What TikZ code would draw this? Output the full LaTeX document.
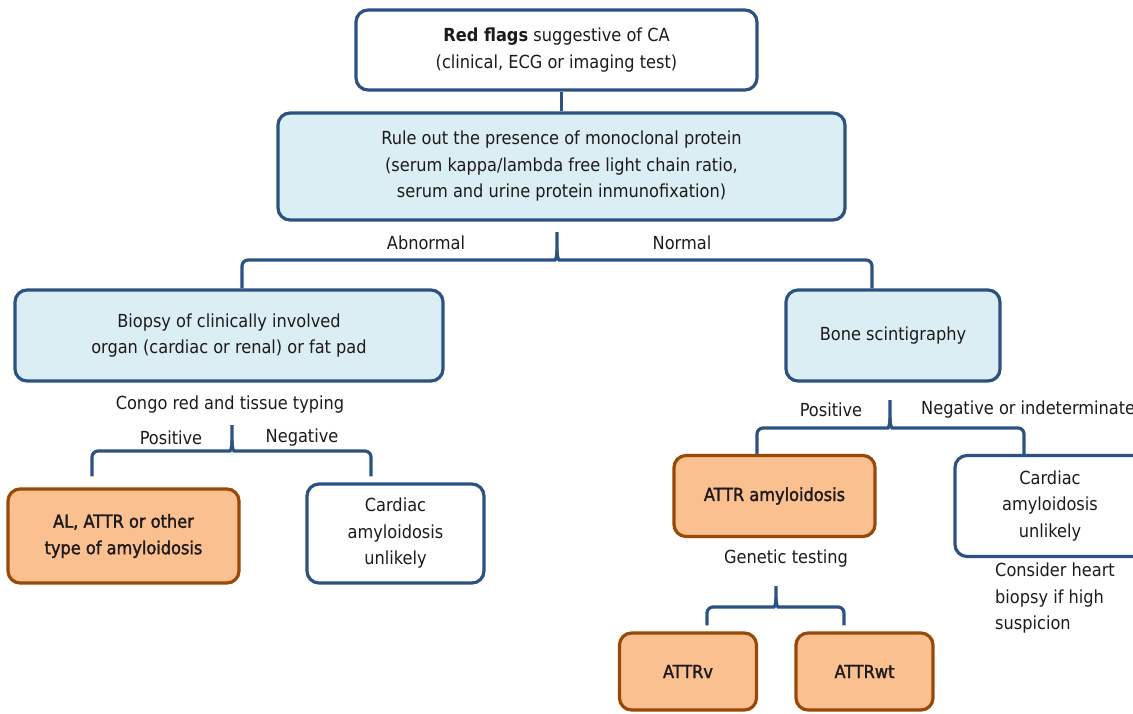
\documentclass[tikz,border=0pt]{standalone}
\usepackage{fontspec}
\setmainfont{DejaVu Sans Condensed}
\newfontfamily\heavyfont{DejaVu Sans Condensed}[FakeBold=1.6]
\usetikzlibrary{positioning,calc}

\definecolor{bordblue}{RGB}{44,82,130}
\definecolor{fillblue}{RGB}{218,238,243}
\definecolor{fillorange}{RGB}{250,192,144}
\definecolor{bordbrown}{RGB}{152,72,7}
\definecolor{txt}{RGB}{30,26,27}

\begin{document}
\begin{tikzpicture}[x=1pt, y=-1pt,
				font=\fontsize{18}{26.5}\selectfont, text=txt,
				box/.style={rectangle, rounded corners=12pt, draw=bordblue, line width=3.2pt, align=center, inner sep=0pt},
				testbox/.style={box, fill=fillblue},
				plainbox/.style={box, fill=white},
				resultbox/.style={box, draw=bordbrown, fill=fillorange, font=\fontsize{18}{26.5}\heavyfont},
				brace/.style={draw=bordblue, line width=3.2pt, rounded corners=6pt},
				label/.style={inner sep=0pt}
			]
			\useasboundingbox (0,0) rectangle (1133,713);
			% boxes
			\node[plainbox, minimum width=401pt, minimum height=80pt] (redflags) at (556.5,50) {\textbf{Red flags} suggestive of CA\\(clinical, ECG or imaging test)};
			\node[testbox, minimum width=567pt, minimum height=107pt] (ruleout) at (561.5,166.5) {Rule out the presence of monoclonal protein\\(serum kappa/lambda free light chain ratio,\\serum and urine protein inmunofixation)};
			\node[testbox, minimum width=428pt, minimum height=91pt] (biopsy) at (229,335.5) {Biopsy of clinically involved\\organ (cardiac or renal) or fat pad};
			\node[testbox, minimum width=214pt, minimum height=91pt] (bone) at (893,335.5) {Bone scintigraphy};
			\node[resultbox, minimum width=231pt, minimum height=94pt] (altype) at (123.5,536) {AL, ATTR or other\\type of amyloidosis};
			\node[plainbox, minimum width=177pt, minimum height=99pt] (unlikelyleft) at (395.5,533.5) {Cardiac\\amyloidosis\\unlikely};
			\node[resultbox, minimum width=201pt, minimum height=81pt] (attr) at (774.5,496) {ATTR amyloidosis};
			\node[plainbox, minimum width=190pt, minimum height=101pt] (unlikelyright) at (1050,506) {Cardiac\\amyloidosis\\unlikely};
			\node[resultbox, minimum width=137pt, minimum height=77pt] (attrv) at (688,671.5) {ATTRv};
			\node[resultbox, minimum width=137pt, minimum height=77pt] (attrwt) at (864.5,671.5) {ATTRwt};
			% labels
			\node[label] (abnormal) at (426,243) {Abnormal};
			\node[label] (normal) at (682,243) {Normal};
			\node[label] (congo) at (230,405) {Congo red and tissue typing};
			\node[label] (posleft) at (171,438) {Positive};
			\node[label] (negleft) at (302,438) {Negative};
			\node[label] (posright) at (831,410) {Positive};
			\node[label, anchor=west] (negright) at (921,410) {Negative or indeterminate};
			\node[label] (genetic) at (786,559) {Genetic testing};
			\node[label, anchor=north west, align=left] (consider) at (995,563) {Consider heart\\biopsy if high\\suspicion};
			% brace tips
			\coordinate (tipmain) at (557,232);
			\coordinate (tipcongo) at (232,425);
			\coordinate (tipbone) at (890,400);
			\coordinate (tipgene) at (776,586);
			% connectors
			\draw[bordblue, line width=3.2pt] (ruleout.north) -- (ruleout.north |- redflags.south);
			\draw[brace] ($(biopsy.north)+(13,0)$) |- ($(tipmain)+(-8,28)$) [sharp corners] .. controls ($(tipmain)+(-2,28)$) and ($(tipmain)+(0,26)$) .. ($(tipmain)+(0,18)$) -- (tipmain);
			\draw[brace] ($(bone.north)+(-21,0)$) |- ($(tipmain)+(8,28)$) [sharp corners] .. controls ($(tipmain)+(2,28)$) and ($(tipmain)+(0,26)$) .. ($(tipmain)+(0,18)$);
			\draw[brace] ($(altype.north)+(-31.5,-11)$) |- ($(tipcongo)+(-8,26)$) [sharp corners] .. controls ($(tipcongo)+(-2,26)$) and ($(tipcongo)+(0,24)$) .. ($(tipcongo)+(0,16)$) -- (tipcongo);
			\draw[brace] ($(unlikelyleft.north)+(-24.5,-6)$) |- ($(tipcongo)+(8,26)$) [sharp corners] .. controls ($(tipcongo)+(2,26)$) and ($(tipcongo)+(0,24)$) .. ($(tipcongo)+(0,16)$);
			\draw[brace] ($(attr.north)+(-17.5,0)$) |- ($(tipbone)+(-8,28)$) [sharp corners] .. controls ($(tipbone)+(-2,28)$) and ($(tipbone)+(0,26)$) .. ($(tipbone)+(0,18)$) -- (tipbone);
			\draw[brace] ($(unlikelyright.north)+(-26,0)$) |- ($(tipbone)+(8,28)$) [sharp corners] .. controls ($(tipbone)+(2,28)$) and ($(tipbone)+(0,26)$) .. ($(tipbone)+(0,18)$);
			\draw[brace] ($(attrv.north)+(19,-6)$) |- ($(tipgene)+(-8,21)$) [sharp corners] .. controls ($(tipgene)+(-2,21)$) and ($(tipgene)+(0,19)$) .. ($(tipgene)+(0,12)$) -- (tipgene);
			\draw[brace] ($(attrwt.north)+(-20.5,-6)$) |- ($(tipgene)+(8,21)$) [sharp corners] .. controls ($(tipgene)+(2,21)$) and ($(tipgene)+(0,19)$) .. ($(tipgene)+(0,12)$);
			\end{tikzpicture}
\end{document}
